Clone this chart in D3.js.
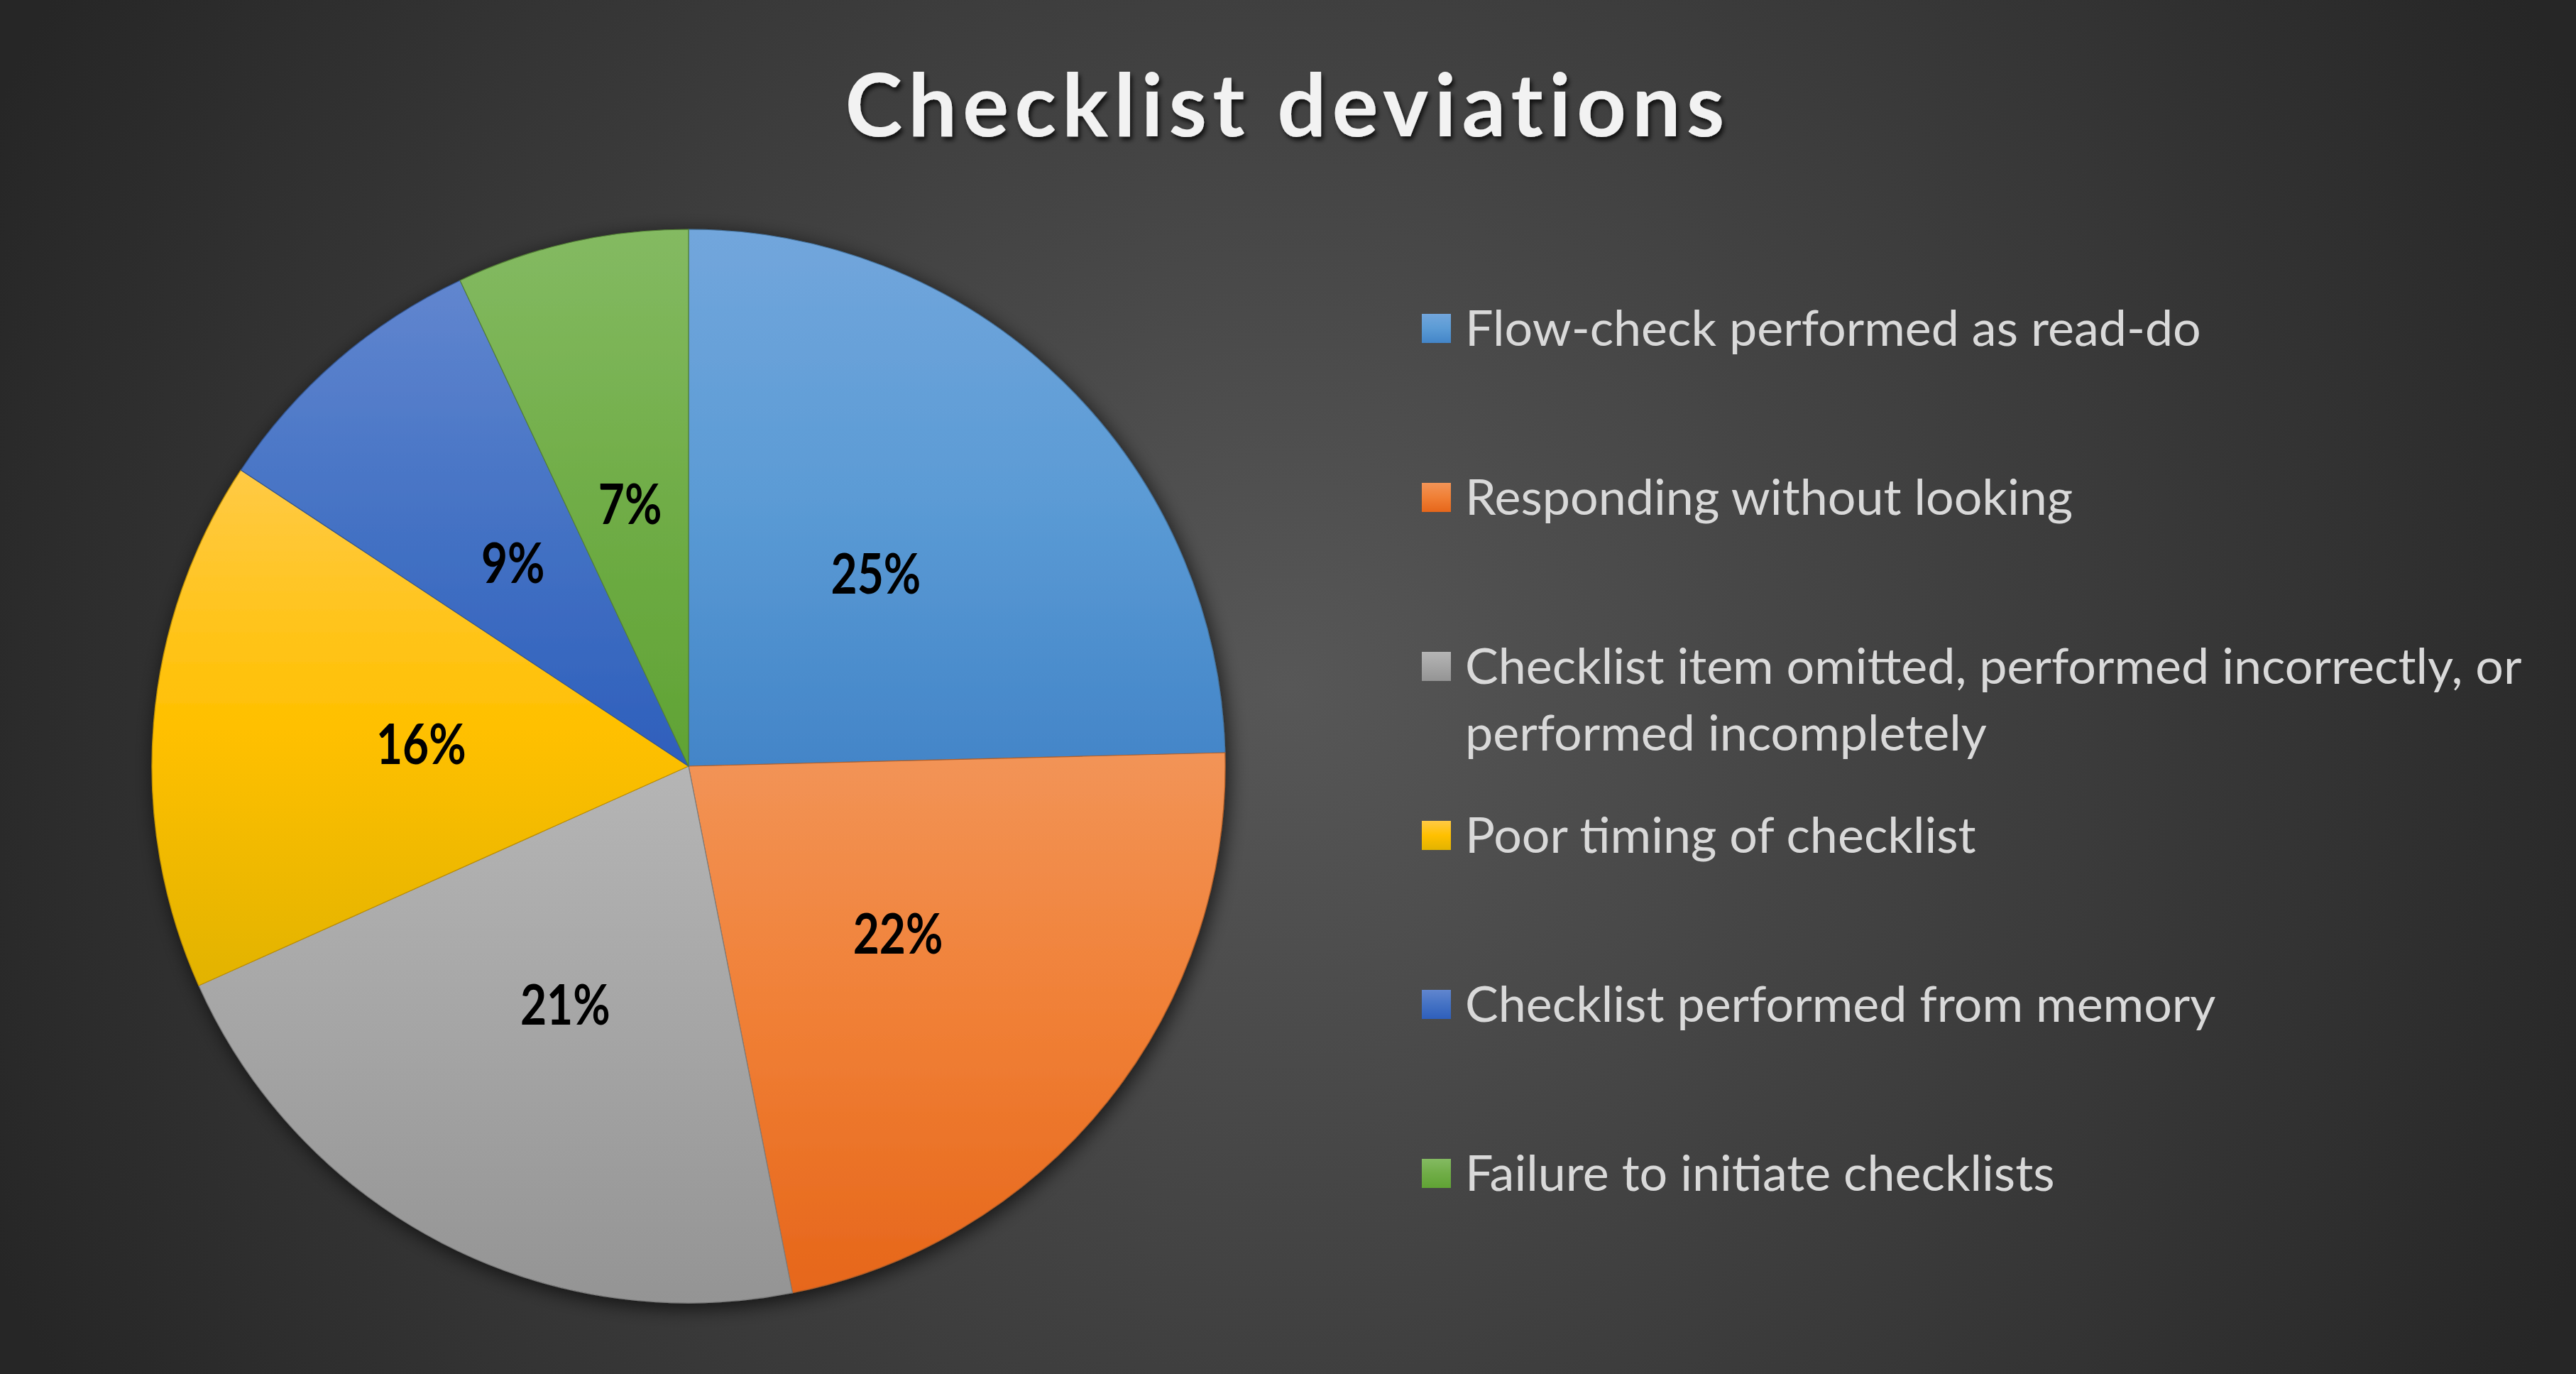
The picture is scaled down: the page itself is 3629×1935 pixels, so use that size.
<!DOCTYPE html>
<html>
<head>
<meta charset="utf-8">
<script src="https://cdn.jsdelivr.net/npm/d3@7"></script>
<style>
  html, body { margin: 0; padding: 0; background: #333; overflow: hidden; }
</style>
</head>
<body>
<div id="chart"></div>
<script>
// data
const categories = [
    "Flow-check performed as read-do",
    "Responding without looking",
    "Checklist item omitted, performed incorrectly, or performed incompletely",
    "Poor timing of checklist",
    "Checklist performed from memory",
    "Failure to initiate checklists"
];
const shares = [24.6, 22.3, 21.4, 16.0, 8.7, 7.0];
const title = "Checklist deviations";

// fill gradient of each slice, top / middle / bottom
const topColors = ["#72a6dc", "#f29457", "#b5b5b5", "#ffca45", "#6186cf", "#84ba62"];
const midColors = ["#5b9bd5", "#f07f35", "#a5a5a5", "#ffc000", "#4472c4", "#70ad47"];
const bottomColors = ["#4385c8", "#e6661a", "#949494", "#e2b300", "#2e5fbc", "#60a334"];

const width = 3629;
const height = 1935;

const svg = d3.select("#chart")
    .append("svg")
        .attr("width", width)
        .attr("height", height);

const defs = svg.append("defs");

// background
const bg = defs.append("radialGradient")
    .attr("id", "bg")
    .attr("gradientUnits", "userSpaceOnUse")
    .attr("cx", width * 0.5)
    .attr("cy", height * 0.5)
    .attr("r", width * 0.55);
bg.append("stop").attr("offset", "0%").attr("stop-color", "#575757");
bg.append("stop").attr("offset", "100%").attr("stop-color", "#262626");

svg.append("rect")
    .attr("width", width)
    .attr("height", height)
    .attr("fill", "url(#bg)");

midColors.forEach((c, i) => {
    const g = defs.append("linearGradient")
        .attr("id", `grad${i}`)
        .attr("x1", 0).attr("y1", 0)
        .attr("x2", 0).attr("y2", 1);
    g.append("stop").attr("offset", "0%").attr("stop-color", topColors[i]);
    g.append("stop").attr("offset", "50%").attr("stop-color", c);
    g.append("stop").attr("offset", "100%").attr("stop-color", bottomColors[i]);
});

const pieShadow = defs.append("filter")
    .attr("id", "pieShadow")
    .attr("x", "-10%").attr("y", "-10%")
    .attr("width", "120%").attr("height", "120%");
pieShadow.append("feDropShadow")
    .attr("dx", 4).attr("dy", 6)
    .attr("stdDeviation", 14)
    .attr("flood-color", "#000")
    .attr("flood-opacity", 0.7);

const titleShadow = defs.append("filter")
    .attr("id", "titleShadow")
    .attr("x", "-5%").attr("y", "-20%")
    .attr("width", "110%").attr("height", "150%");
titleShadow.append("feDropShadow")
    .attr("dx", 3).attr("dy", 5)
    .attr("stdDeviation", 3)
    .attr("flood-color", "#000")
    .attr("flood-opacity", 0.75);

// title
const titleText = svg.append("text")
    .text(title)
    .attr("x", 1810)
    .attr("y", 192)
    .style("text-anchor", "middle")
    .style("font-family", "Lato, 'Open Sans', sans-serif")
    .style("font-weight", "bold")
    .style("font-size", "122px")
    .style("fill", "#f2f2f2")
    .attr("filter", "url(#titleShadow)");
const titleW = titleText.node().getComputedTextLength();
const spacing = (1241 - titleW) / (title.length - 1);
titleText.style("letter-spacing", `${spacing}px`)
    .attr("x", 1810 + spacing / 2);

// pie
const cx = 970;
const cy = 1079;
const radius = 756;

const data = categories.map((c, i) => ({ name: c, value: shares[i], index: i }));
const total = d3.sum(shares);

const pie = d3.pie()
    .value(d => d.value)
    .sort(null);

const arcs = pie(data);

const arc = d3.arc()
    .innerRadius(0)
    .outerRadius(radius);

const labelArc = d3.arc()
    .innerRadius(radius * 0.5)
    .outerRadius(radius * 0.5);

const g = svg.append("g")
    .attr("transform", `translate(${cx} ${cy})`);

g.append("g")
    .attr("filter", "url(#pieShadow)")
    .selectAll("path")
    .data(arcs)
    .enter()
    .append("path")
        .attr("d", arc)
        .attr("fill", d => `url(#grad${d.index})`)
        .attr("stroke", d => d3.interpolateRgb(midColors[d.index], "#000")(0.25))
        .attr("stroke-width", 1.2);

// percentage labels, squeezed a little to get Calibri-like proportions
g.selectAll("text.label")
    .data(arcs)
    .enter()
    .append("text")
        .attr("class", "label")
        .text(d => `${Math.round(d.data.value / total * 100)}%`)
        .attr("x", d => labelArc.centroid(d)[0])
        .attr("y", d => labelArc.centroid(d)[1])
        .attr("dy", "0.36em")
        .style("text-anchor", "middle")
        .style("font-family", "Lato, 'Open Sans', sans-serif")
        .style("font-weight", "bold")
        .style("font-size", "78px")
        .style("fill", "#000")
        .each(function() {
            const w = this.getComputedTextLength();
            d3.select(this)
                .attr("textLength", w * 0.82)
                .attr("lengthAdjust", "spacingAndGlyphs");
        });

// legend
const legendX = 2003;
const legendTop = 462;
const legendStep = 238;
const lineStep = 94;
const legendFont = 70;
const maxLine = 1520;

const legend = svg.append("g");

const items = legend.selectAll("g")
    .data(data)
    .enter()
    .append("g")
        .attr("transform", (d, i) => `translate(${legendX} ${legendTop + i * legendStep})`);

items.append("rect")
    .attr("x", 0)
    .attr("y", -20)
    .attr("width", 41)
    .attr("height", 41)
    .attr("fill", d => `url(#grad${d.index})`);

// wrap long names into lines no wider than the legend box
items.each(function(d) {
    const item = d3.select(this);
    const text = item.append("text")
        .style("font-family", "Lato, 'Open Sans', sans-serif")
        .style("font-size", `${legendFont}px`)
        .style("fill", "#d9d9d9");
    const newLine = n => text.append("tspan")
        .attr("x", 61)
        .attr("y", n * lineStep)
        .attr("dy", "0.35em");
    const words = d.name.split(" ");
    let line = [];
    let lineNo = 0;
    let tspan = newLine(0);
    for (const w of words) {
        line.push(w);
        tspan.text(line.join(" "));
        if (tspan.node().getComputedTextLength() > maxLine && line.length > 1) {
            line.pop();
            tspan.text(line.join(" "));
            line = [w];
            lineNo++;
            tspan = newLine(lineNo).text(w);
        }
    }
});
</script>
</body>
</html>
